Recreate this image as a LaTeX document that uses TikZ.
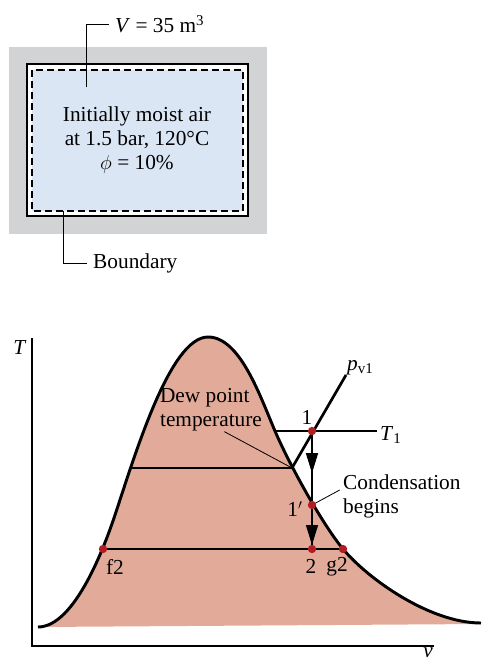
\documentclass[tikz,border=0pt]{standalone}
\usepackage{fontspec}
\setmainfont{Liberation Serif}
\usepackage{tikz}
\usetikzlibrary{arrows.meta,calc}
\definecolor{domeSalmon}{HTML}{E2AB99}
\definecolor{airBlue}{HTML}{DAE6F4}
\definecolor{wallGray}{HTML}{D2D3D5}
\definecolor{stateRed}{HTML}{B01E23}
\tikzset{
  every picture/.append style={font=\fontsize{18.2}{20.6}\selectfont},
  tankwall/.style={draw=black,line width=1.6pt,fill=white},
  boundary/.style={draw=black,line width=1.2pt,dash pattern=on 2.1mm off 1.2mm,fill=airBlue},
  systext/.style={align=center,inner sep=0pt},
  leader/.style={draw=black,line width=0.7pt},
  leaderlabel/.style={inner sep=1.8mm},
  axisline/.style={draw=black,line width=1.1pt},
  domefill/.style={fill=domeSalmon},
  domeline/.style={draw=black,line width=2.5pt},
  tieline/.style={draw=black,line width=2.3pt},
  processline/.style={draw=black,line width=1.2pt},
  processarrow/.style={-{Triangle[length=6mm,width=3.6mm]},draw=black,line width=1.2pt},
  statedot/.style={circle,fill=stateRed,inner sep=0pt,minimum size=2.5mm},
  lbl/.style={inner sep=0pt},
}
% saturation dome, in pixel units of the picture
\newcommand{\domecurve}{(38,627) .. controls (75,627) and (105,545) .. (115,515)
  .. controls (135,455) and (170,337) .. (208,337)
  .. controls (240,337) and (260,396) .. (275,431)
  .. controls (290,466) and (323,525) .. (343,549)
  .. controls (368,579) and (430,623) .. (481,623)}

\begin{document}
\begin{tikzpicture}[x=0.3mm,y=-0.3mm]
  \useasboundingbox (0,0) rectangle (481,661);

  % closed vessel
  \fill[wallGray] (9,47) rectangle (267,234);
  \draw[tankwall] (27,64) rectangle (248,216);
  \draw[boundary] (32,70) rectangle (243,211);
  \node[systext] (air) at (137,140) {Initially moist air\\at 1.5 bar, 120°C\\$\phi$ = 10\%};

  \coordinate (vfoot) at (86,87);
  \node[leaderlabel, anchor=west] (vlabel) at (109,24) {\textit{V} = 35 m\textsuperscript{3}};
  \draw[leader] (vfoot) |- (vlabel);

  \coordinate (bfoot) at (63,211);
  \node[leaderlabel, anchor=west] (blabel) at (87,263) {Boundary};
  \draw[leader] (bfoot) |- (blabel);

  % T-v diagram
  \coordinate (ttop) at (32,338);
  \coordinate (origin) at (32,646);
  \coordinate (vend) at (434,646);
  \draw[axisline] (ttop) -- (origin) -- (vend);
  \node[lbl] (tlabel) at (20,348) {\textit{T}};
  \node[lbl, anchor=base] (vlabel2) at (428,657.5) {\textit{v}};

  \fill[domefill] \domecurve -- (481,624) -- (38,627) -- cycle;

  \coordinate (dewL) at (130,468);
  \coordinate (dew) at (292,468);
  \coordinate (f2) at (103,549);
  \coordinate (g2) at (343,549);
  \coordinate (p2) at (312,549);
  \coordinate (p1) at (312,431);
  \coordinate (p1p) at (312,505);
  \coordinate (t1L) at (275,431);
  \coordinate (t1R) at (377,431);
  \coordinate (pvtop) at (346,375);

  \draw[tieline] (dewL) -- (dew);
  \draw[tieline] (f2) -- (g2);
  \draw[tieline] (t1L) -- (t1R);
  \draw[tieline] (dew) -- (pvtop);
  \draw[domeline] \domecurve;

  \draw[processline] (p1) -- (p2);
  \draw[processarrow] (p1) -- ($(p1)!0.57!(p1p)$);
  \draw[processarrow, shorten >=1.2mm] (p1p) -- (p2);

  \node[lbl, align=left] (dewlabel) at (211,410) {Dew point\\temperature};
  \draw[leader] ([xshift=4mm]dewlabel.south) -- (dew);
  \node[lbl, align=left, anchor=west] (condlabel) at (343,496) {Condensation\\begins};
  \draw[leader] (p1p) -- ([xshift=-1mm,yshift=1.8mm]condlabel.west);

  \foreach \pt in {p1,p1p,p2,f2,g2}
    \node[statedot] (dot-\pt) at (\pt) {};

  \node[lbl] (lab1) at (307,417) {1};
  \node[lbl] (lab1p) at (295,509) {1$'$};
  \node[lbl] (lab2) at (311,566) {2};
  \node[lbl] (labg2) at (337,567) {g2};
  \node[lbl] (labf2) at (115,567) {f2};
  \node[lbl, anchor=base west] (labpv) at (347,370) {\textit{p}\textsubscript{v1}};
  \node[lbl, anchor=base west] (labT1) at (380,440) {\textit{T}\textsubscript{1}};
\end{tikzpicture}
\end{document}
